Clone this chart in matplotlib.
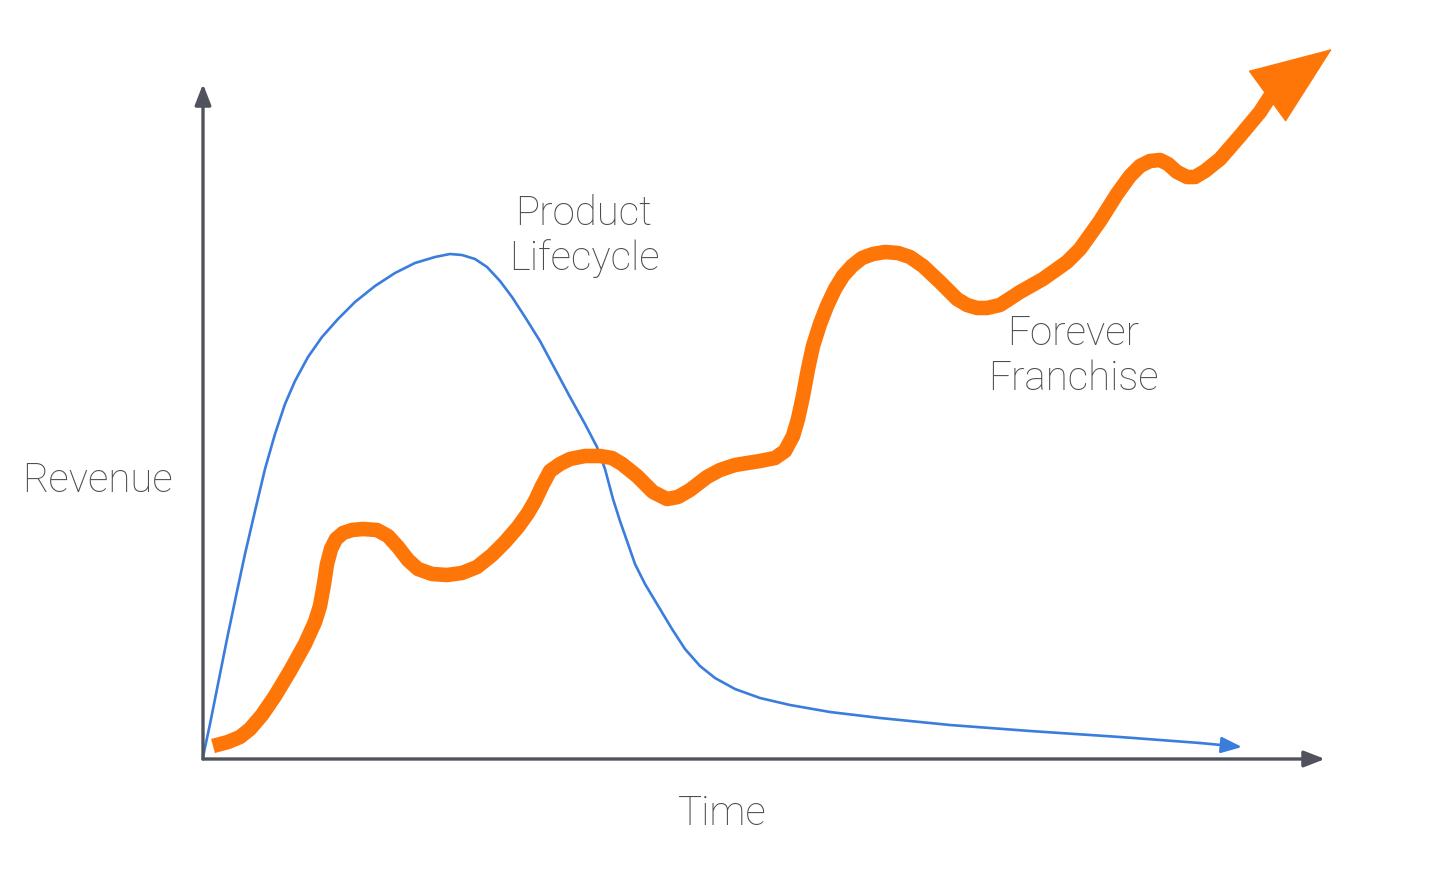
import matplotlib.pyplot as plt

# -----------------------------
# Curve data (time, revenue)
# -----------------------------
lifecycle_t = [0, 7, 15, 24, 33, 42, 52, 62, 72, 82, 92, 105, 119, 135, 152, 172,
               192, 212, 232, 247, 259, 272, 284, 297, 309, 322, 337, 352, 367,
               382, 394, 402, 410, 417, 424, 432, 442, 457, 469, 482, 497, 512,
               532, 557, 587, 627, 677, 747, 827, 917, 997, 1039]
lifecycle_rev = [2, 35, 75, 120, 163, 205, 248, 290, 325, 355, 378, 402, 422, 440,
                 457, 473, 486, 496, 502, 505, 504, 500, 492, 478, 462, 442, 418,
                 390, 362, 335, 312, 290, 260, 238, 218, 195, 175, 150, 130, 110,
                 93, 81, 70, 61, 54, 47, 41, 34, 28, 22, 16, 12]

franchise_t = [10, 25, 37, 47, 59, 72, 87, 102, 112, 117, 121, 124, 128, 133, 140,
               149, 160, 174, 185, 195, 205, 215, 229, 244, 259, 274, 289, 302,
               315, 325, 332, 339, 347, 357, 367, 382, 397, 409, 419, 434, 450,
               464, 475, 487, 504, 517, 532, 557, 572, 582, 590, 595, 600, 605,
               610, 617, 624, 632, 640, 649, 659, 670, 682, 695, 707, 720, 737,
               754, 764, 774, 784, 797, 817, 840, 864, 877, 887, 897, 914, 927,
               937, 947, 957, 965, 974, 984, 992, 1002, 1017, 1037, 1057, 1070, 1129]
franchise_rev = [13, 17, 22, 30, 44, 63, 88, 115, 137, 153, 175, 195, 210, 220, 226,
                 229, 230, 229, 223, 212, 199, 190, 185, 184, 186, 192, 204, 217,
                 232, 246, 258, 273, 288, 295, 300, 303, 303, 301, 295, 283, 267,
                 260, 262, 269, 282, 289, 294, 298, 301, 308, 323, 340, 363, 390,
                 413, 435, 453, 470, 483, 493, 501, 505, 507, 506, 502, 493, 477,
                 460, 454, 451, 451, 454, 467, 480, 497, 510, 524, 538, 565, 583,
                 593, 598, 599, 595, 587, 582, 582, 588, 600, 623, 647, 667, 710]

x_max = 1122
y_max = 675

orange = "#ff7608"
blue = "#3b7ddd"
axis_gray = "#50535c"
text_gray = "#4d4d4d"

plt.rcParams["font.family"] = ["Roboto", "DejaVu Sans"]

fig = plt.figure(figsize=(14.56, 8.78), dpi=100)
ax = fig.add_axes([0, 0, 1, 1])
ax.set_xlim(-203, 1253)
ax.set_ylim(-118, 760)
ax.axis("off")

# axes with arrows
for end in [(x_max, 0), (0, y_max)]:
    ax.annotate("", xy=end, xytext=(0, 0),
                arrowprops=dict(arrowstyle="-|>,head_length=0.9,head_width=0.35",
                                lw=2.4, color=axis_gray, shrinkA=0, shrinkB=0,
                                mutation_scale=14))

# product lifecycle
ax.plot(lifecycle_t[:-1], lifecycle_rev[:-1], color=blue, lw=1.9,
        solid_joinstyle="round", solid_capstyle="round")
ax.annotate("", xy=(lifecycle_t[-1], lifecycle_rev[-1]),
            xytext=(lifecycle_t[-2], lifecycle_rev[-2]),
            arrowprops=dict(arrowstyle="-|>,head_length=0.9,head_width=0.35",
                            lw=1.9, color=blue, shrinkA=0, shrinkB=0,
                            mutation_scale=14))

# forever franchise
ax.plot(franchise_t[:-1], franchise_rev[:-1], color=orange, lw=10.5,
        solid_joinstyle="round", solid_capstyle="butt")
ax.annotate("", xy=(franchise_t[-1], franchise_rev[-1]),
            xytext=(franchise_t[-2], franchise_rev[-2]),
            arrowprops=dict(arrowstyle="-|>,head_length=2.8,head_width=1.1",
                            lw=1, color=orange, shrinkA=0, shrinkB=0,
                            mutation_scale=20))

# labels
label_kw = dict(fontsize=29, color=text_gray, ha="center", va="center",
                fontweight="light", linespacing=1.2)
ax.text(-106, 279, "Revenue", **label_kw)
ax.text(519, -54, "Time", **label_kw)
ax.text(381, 524, "Product\nLifecycle", **label_kw)
ax.text(870, 404, "Forever\nFranchise", **label_kw)

fig.savefig("out.png", dpi=100)
